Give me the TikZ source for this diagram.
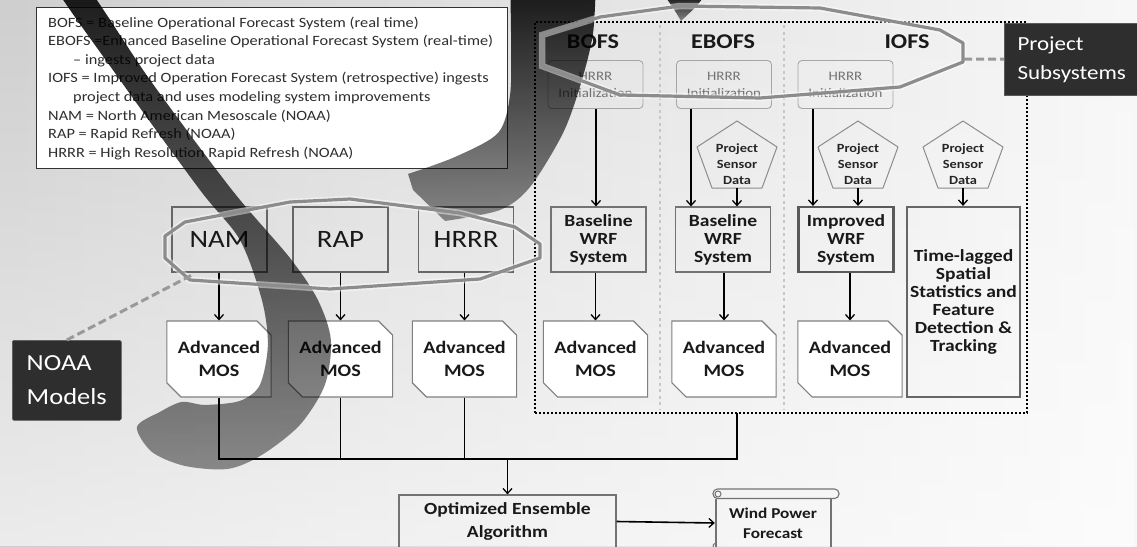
\documentclass[tikz,border=0pt]{standalone}
\usepackage{fontspec}
\setmainfont{Carlito}
\newfontfamily\cf[FakeStretch=1.15]{Carlito}
\usetikzlibrary{arrows.meta,shapes.misc,fadings,calc}
\tikzfading[name=swfade, top color=transparent!8, bottom color=transparent!58]
\tikzfading[name=bgfade, top color=transparent!100, bottom color=transparent!40]
\newcommand\mypent[1]{\draw[pentline] ($(#1)+(0,-43)$) -- ($(#1)+(40,-17)$) -- ($(#1)+(25,24)$) -- ($(#1)+(-25,24)$) -- ($(#1)+(-40,-17)$) -- cycle;
  \coordinate (#1b) at ($(#1)+(0,24)$);}
\begin{document}
\begin{tikzpicture}[x=1pt,y=-1pt,
  hdr/.style={font=\cf\bfseries\fontsize{21}{21}\selectfont, text=black!90, inner sep=0pt},
  modbox/.style={draw=black!60, line width=1.1pt, minimum width=95pt, minimum height=65pt, inner sep=0pt, font=\cf\fontsize{25}{25}\selectfont, text=black!90},
  initbox/.style={draw=black!35, rounded corners=4pt, line width=0.9pt, minimum width=95pt, minimum height=48pt, inner sep=0pt, align=center, font=\cf\fontsize{13}{17}\selectfont, text=black!55},
  wrfbox/.style={draw=black!55, line width=1.2pt, minimum width=95pt, minimum height=65pt, inner sep=0pt, align=center, font=\cf\bfseries\fontsize{17}{18}\selectfont, text=black!90},
  mosbox/.style={chamfered rectangle, chamfered rectangle corners={north east, south west}, chamfered rectangle xsep=11pt, draw=black!50, line width=1.1pt, fill=white, minimum width=96pt, minimum height=76pt, inner sep=0pt, align=center, font=\cf\bfseries\fontsize{17.5}{23}\selectfont, text=black!90},
  penttext/.style={align=center, inner sep=0pt, font=\cf\bfseries\fontsize{12.5}{16}\selectfont, text=black!85},
  pentline/.style={draw=black!45, line width=1pt, line join=round},
  arr/.style={-{Straight Barb[length=5pt,width=9pt,line width=1.3pt]}, line width=1.6pt, black},
  ln/.style={line width=1.4pt, black},
  divider/.style={draw=black!22, line width=2.6pt, dash pattern=on 3pt off 3.5pt},
  darklbl/.style={fill=black!82, draw=black!65, line width=0.5pt, rounded corners=1.5pt, text=white, align=left, inner sep=0pt},
  dashconn/.style={draw=black!40, line width=3pt, dash pattern=on 8pt off 4pt},
  oct/.style={draw=black!45, line width=3.2pt, line join=round, preaction={draw=white, draw opacity=0.45, line width=6.5pt}},
  swoosh/.style={fill=black, path fading=swfade}
]
\useasboundingbox (0,0) rectangle (1137,546);
\clip (0,0) rectangle (1137,546);
% background
\shade[left color=black!19, right color=black!3] (0,0) rectangle (1137,546);
\fill[white, path fading=bgfade] (0,0) rectangle (1137,546);

% legend
\node[draw=black!80, line width=0.9pt, fill=white, minimum width=471pt, minimum height=161pt, inner sep=0pt] (legend) at (271.5,87.5) {};
\node[anchor=north west, align=left, inner sep=0pt, font=\cf\fontsize{14.2}{18.6}\selectfont, text=black!82] (legtext) at (48,16.5) {BOFS = Baseline Operational Forecast System (real time)\\
EBOFS =Enhanced Baseline Operational Forecast System (real-time)\\
\hspace*{25pt}– ingests project data\\
IOFS = Improved Operation Forecast System (retrospective) ingests\\
\hspace*{25pt}project data and uses modeling system improvements\\
NAM = North American Mesoscale (NOAA)\\
RAP = Rapid Refresh (NOAA)\\
HRRR = High Resolution Rapid Refresh (NOAA)};

% project subsystems dotted box
\node[draw, dash pattern=on 2pt off 2pt, line width=2.2pt, minimum width=492pt, minimum height=391pt, inner sep=0pt] (subsys) at (781,217.5) {};
\draw[divider] (660,25) -- (660,409);
\draw[divider] (784,25) -- (784,409);

\node[hdr] (hb) at (593,42) {BOFS};
\node[hdr] (he) at (723,42) {EBOFS};
\node[hdr] (hi) at (907,42) {IOFS};

\node[initbox] (i1) at (595.5,84.5) {HRRR\\Initialization};
\node[initbox] (i2) at (724,84.5) {HRRR\\Initialization};
\node[initbox] (i3) at (845.5,84.5) {HRRR\\Initialization};

\node[penttext] (p2) at (737,164) {Project\\Sensor\\Data};
\node[penttext] (p3) at (858,164) {Project\\Sensor\\Data};
\node[penttext] (p4) at (963,164) {Project\\Sensor\\Data};
\mypent{p2}\mypent{p3}\mypent{p4}

\node[wrfbox] (w1) at (598.5,239.5) {Baseline\\WRF\\System};
\node[wrfbox] (w2) at (723,239.5) {Baseline\\WRF\\System};
\node[wrfbox, draw=black!65, line width=2.2pt] (w3) at (846,239.5) {Improved\\WRF\\System};
\node[wrfbox, draw=black!60, line width=2.2pt, minimum width=113pt, minimum height=190pt] (tl) at (963.5,302) {Time-lagged\\Spatial\\Statistics and\\Feature\\Detection \&\\Tracking};

\node[mosbox] (m4) at (595.5,359) {Advanced\\MOS};
\node[mosbox] (m5) at (724,359) {Advanced\\MOS};
\node[mosbox] (m6) at (850,359) {Advanced\\MOS};

% NOAA models
\node[modbox] (nam) at (219.5,239.5) {NAM};
\node[modbox] (rap) at (340.5,239.5) {RAP};
\node[modbox] (hrrr) at (466,239.5) {HRRR};
\node[mosbox] (m1) at (219,359) {Advanced\\MOS};
\node[mosbox] (m2) at (340.5,359) {Advanced\\MOS};
\node[mosbox] (m3) at (464.5,359) {Advanced\\MOS};

% arrows
\draw[arr] ([xshift=0.5pt]i1.south) -- ([xshift=0.5pt]i1.south |- w1.north);
\draw[arr] ([xshift=-33pt]i2.south) -- ([xshift=-33pt]i2.south |- w2.north);
\draw[arr] (p2b) -- (p2b |- w2.north);
\draw[arr] ([xshift=-32.5pt]i3.south) -- ([xshift=-32.5pt]i3.south |- w3.north);
\draw[arr] (p3b) -- (p3b |- w3.north);
\draw[arr] (p4b) -- (p4b |- tl.north);
\draw[arr] (w1.south -| m4) -- (m4.north);
\draw[arr] (w2.south -| m5) -- (m5.north);
\draw[arr] (w3.south -| m6) -- (m6.north);
\draw[arr] (nam.south -| m1) -- (m1.north);
\draw[arr] (rap.south -| m2) -- (m2.north);
\draw[arr] (hrrr.south -| m3) -- (m3.north);

% bottom
\node[draw=black!55, line width=1.2pt, minimum width=217pt, minimum height=53pt, inner sep=0pt, align=center, font=\cf\bfseries\fontsize{17}{23}\selectfont, text=black!90] (opt) at (507.5,521.5) {Optimized Ensemble\\Algorithm};
\node[align=center, inner sep=0pt, minimum width=116pt, minimum height=40pt, font=\cf\bfseries\fontsize{15}{20}\selectfont, text=black!90] (wpf) at (773,523) {Wind Power\\Forecast};
\draw[black!55, line width=1.1pt, rounded corners=4.5pt] (713,489) rectangle (839,498.5);
\draw[black!55, line width=1.1pt] (716,498.5) -- (716,550) (831,498.5) -- (831,550);
\draw[black!55, line width=1pt] (718,494) circle (3pt);
\draw[black!55, line width=1pt] (716,543) arc (90:200:3pt);

\coordinate (subout) at (737,413);
\coordinate (busr) at (737,459);
\draw[ln] (m1.south) -- (m1.south |- busr) -- (busr) -- (subout);
\draw[ln] (m2.south) -- (m2.south |- busr);
\draw[ln] (m3.south) -- (m3.south |- busr);
\draw[arr] (opt.north |- busr) -- (opt.north);
\draw[arr] (opt.east) -- (wpf.west);

% swooshes
\fill[swoosh] plot[smooth cycle, tension=0.5] coordinates {(48,-25) (120,80) (200,190) (240,240) (262,300) (268,345) (260,385) (240,401) (205,405) (182,402) (160,412) (137,427) (152,452) (185,466) (228,469) (262,455) (300,425) (325,385) (331,340) (318,300) (290,258) (232,190) (150,80) (78,-25)};
\fill[swoosh] (510,-25) -- plot[smooth] coordinates {(596,-25) (593,33) (581,83) (563,133) (530,187) (500,210) (445,221)} -- (413,190) -- plot[smooth] coordinates {(408,174) (455,157) (498,133) (510,95) (511,40) (510,-25)} -- cycle;
\fill[swoosh] (664,-5) -- (705,-5) .. controls (697,6) .. (681,21) .. controls (674,9) .. (664,-5);

% octagons and labels
\draw[oct] (165,236) -- (185,222) -- (290,202) -- (350,199) -- (460,213) -- (515,227) -- (540,244) -- (540,258) -- (480,279) -- (330,289) -- (190,280) -- (165,258) -- cycle;
\draw[oct] (542,35) -- (600,17) -- (680,6) -- (820,8) -- (940,30) -- (963,43) -- (963,62) -- (900,87) -- (760,98) -- (620,95) -- (542,66) -- cycle;
\coordinate (octL) at (192,275);
\coordinate (octR) at (964,59);

\node[darklbl, minimum width=109pt, minimum height=80pt, anchor=north west, font=\cf\fontsize{23}{34}\selectfont] (noaa) at (12,340) {NOAA\\Models};
\node[darklbl, rounded corners=0pt, minimum width=135pt, minimum height=72pt, anchor=north west, font=\cf\fontsize{20}{29}\selectfont] (ps) at (1004,23) {Project\\Subsystems};
\draw[dashconn] (noaa.north) -- (octL);
\draw[dashconn] (octR) -- (ps.west);
\end{tikzpicture}
\end{document}
